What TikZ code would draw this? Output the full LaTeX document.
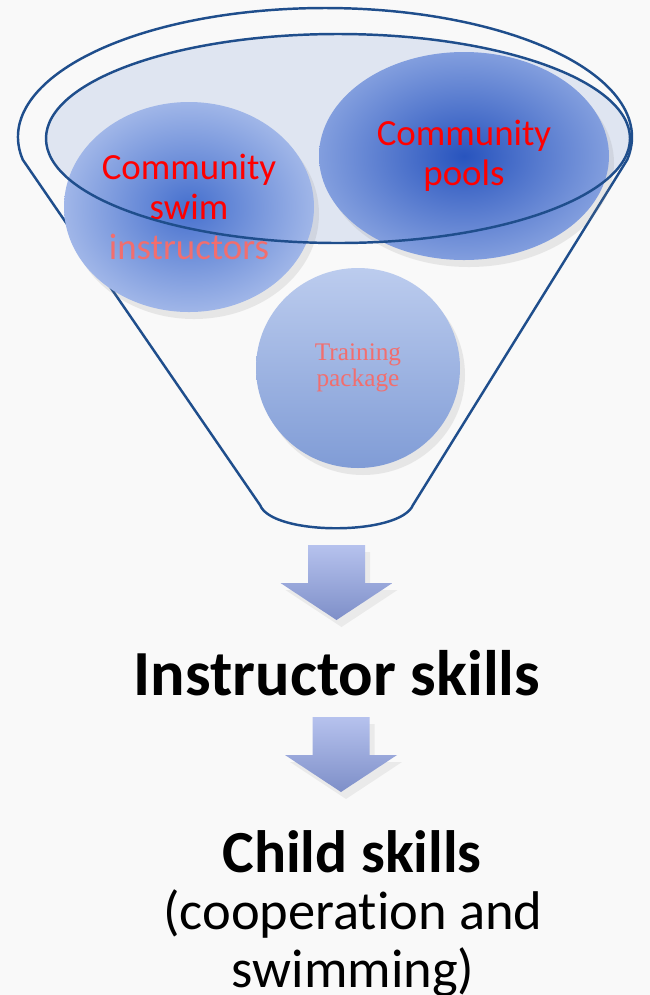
\documentclass[tikz,border=0pt]{standalone}
\usepackage{fontspec}
\setmainfont{Carlito}[Ligatures=CommonOff]
\newfontfamily\cambriafont{Liberation Serif}
\usetikzlibrary{shapes.geometric,shadows}
\definecolor{funnelblue}{HTML}{1F4E8C}
\definecolor{rimfill}{HTML}{D9E0EF}
\definecolor{pinkred}{HTML}{F26E6E}
\definecolor{arrowtop}{HTML}{B6C2EE}
\definecolor{arrowbot}{HTML}{7E8FC8}
\tikzset{
  ball/.style={ellipse, inner sep=0pt, align=center,
    drop shadow={opacity=0.15, shadow xshift=0.5mm, shadow yshift=-0.7mm}},
  balltext/.style={font=\fontsize{10.5}{11.4}\selectfont},
  funnel/.style={draw=funnelblue, line width=0.7pt},
  arrowshade/.style={top color=arrowtop, bottom color=arrowbot,
    drop shadow={opacity=0.12, shadow xshift=0.5mm, shadow yshift=-0.7mm}},
  downarrow/.pic={
    \shade[arrowshade] (-0.285,0) -- (0.285,0) -- (0.285,-0.38) -- (0.56,-0.38)
      -- (0,-0.75) -- (-0.56,-0.38) -- (-0.285,-0.38) -- cycle;
  }
}
\begin{document}
\begin{tikzpicture}
\useasboundingbox (0,0) rectangle (6.5,-9.95);
\fill[gray!5] (0,0) rectangle (6.5,-9.95);
% funnel
\draw[funnel] (3.25,-1.37) ++(190.2:3.07 and 1.29)
  arc[start angle=190.2, end angle=-10.2, x radius=3.07, y radius=1.29]
  -- (4.13,-5.05) .. controls (4.00,-5.36) and (2.72,-5.36) .. (2.60,-5.05) -- cycle;
\fill[rimfill, opacity=0.8] (3.38,-1.385) ellipse [x radius=2.92, y radius=1.045];
% balls
\node[ball, minimum width=2.50cm, minimum height=2.10cm,
  inner color={rgb,255:red,70;green,112;blue,206}, outer color={rgb,255:red,160;green,182;blue,232},
  balltext] (swim) at (1.89,-2.07)
  {\textcolor{red}{Community}\\\textcolor{red}{swim}\\\textcolor{pinkred}{instructors}};
\node[ball, minimum width=2.04cm, minimum height=2.00cm,
  top color={rgb,255:red,188;green,204;blue,238}, bottom color={rgb,255:red,128;green,156;blue,214},
  font=\cambriafont\fontsize{7.2}{7.4}\selectfont] (pack) at (3.58,-3.68)
  {\textcolor{pinkred}{Training}\\\textcolor{pinkred}{package}};
\node[ball, minimum width=2.90cm, minimum height=2.08cm,
  inner color={rgb,255:red,40;green,84;blue,190}, outer color={rgb,255:red,130;green,158;blue,222},
  balltext] (pools) at (4.64,-1.56)
  {\textcolor{red}{Community}\\\textcolor{red}{pools}};
\draw[funnel] (3.38,-1.385) ellipse [x radius=2.92, y radius=1.045];
% arrows and results
\pic at (3.365,-5.45) {downarrow};
\node[font=\fontsize{18.3}{20}\selectfont\bfseries] (skills) at (3.37,-6.73) {Instructor skills};
\pic at (3.41,-7.17) {downarrow};
\node[font=\fontsize{17}{18}\selectfont\bfseries] (child) at (3.52,-8.52) {Child skills};
\node[font=\fontsize{15.5}{16.6}\selectfont, align=center] (coop) at (3.53,-9.43) {(cooperation and\\swimming)};
\end{tikzpicture}
\end{document}
